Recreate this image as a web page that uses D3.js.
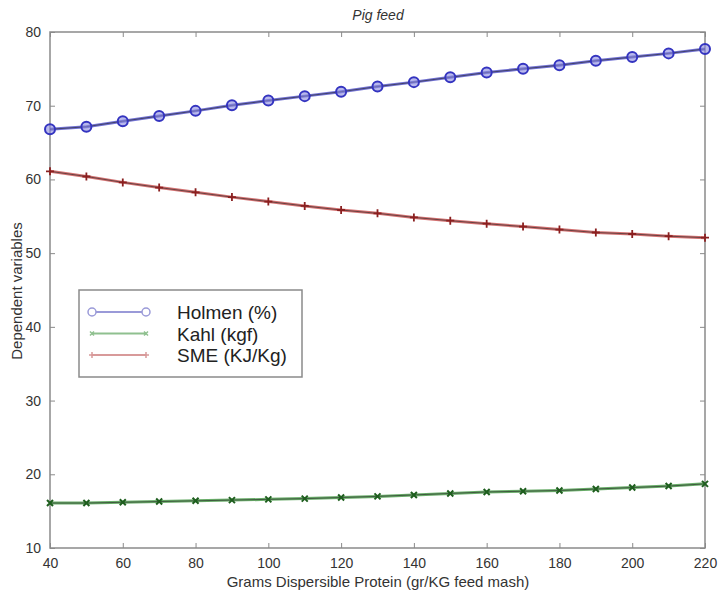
<!DOCTYPE html>
<html><head><meta charset="utf-8">
<script src="https://cdn.jsdelivr.net/npm/d3@7"></script>
<style>body{margin:0;background:#fff;}svg{display:block;}text{font-family:"Liberation Sans",Arial,sans-serif;}</style>
</head><body><svg id="c" width="718" height="592"></svg>
<script>
const xValues = [40,50,60,70,80,90,100,110,120,130,140,150,160,170,180,190,200,210,220];
const holmen = [66.8,67.15,67.9,68.6,69.3,70.05,70.7,71.3,71.9,72.6,73.2,73.85,74.5,75.0,75.5,76.1,76.6,77.1,77.7];
const kahl = [16.1,16.1,16.2,16.3,16.4,16.5,16.6,16.7,16.85,17.0,17.2,17.4,17.6,17.7,17.8,18.0,18.2,18.4,18.7];
const sme = [61.1,60.4,59.6,58.9,58.25,57.6,57.0,56.4,55.85,55.4,54.85,54.4,54.0,53.6,53.2,52.8,52.6,52.3,52.1];
const xTicks = [40,60,80,100,120,140,160,180,200,220];
const yTicks = [10,20,30,40,50,60,70,80];
const seriesNames = ["Holmen (%)","Kahl (kgf)","SME (KJ/Kg)"];
const seriesColors = ["#3434c0","#2a8a2a","#c03434"];
const title = "Pig feed";
const xLabel = "Grams Dispersible Protein (gr/KG feed mash)";
const yLabel = "Dependent variables";

const svg = d3.select("#c");
const L=50,T=32,R=705,B=548;
const x = d3.scaleLinear().domain([40,220]).range([L,R]);
const y = d3.scaleLinear().domain([10,80]).range([B,T]);
const axisCol="#8a8a8a", textCol="#333";

svg.append("rect").attr("x",L).attr("y",T).attr("width",R-L).attr("height",B-T)
  .attr("fill","none").attr("stroke",axisCol).attr("stroke-width",1.5);

const gx = svg.append("g").attr("transform",`translate(0,${B})`)
  .call(d3.axisBottom(x).tickValues(xTicks).tickSizeInner(-5).tickSizeOuter(0).tickPadding(10));
const gxt = svg.append("g").attr("transform",`translate(0,${T})`)
  .call(d3.axisTop(x).tickValues(xTicks).tickSizeInner(-5).tickSizeOuter(0).tickFormat(""));
const gy = svg.append("g").attr("transform",`translate(${L},0)`)
  .call(d3.axisLeft(y).tickValues(yTicks).tickSizeInner(-5).tickSizeOuter(0).tickPadding(9));
const gyr = svg.append("g").attr("transform",`translate(${R},0)`)
  .call(d3.axisRight(y).tickValues(yTicks).tickSizeInner(-5).tickSizeOuter(0).tickFormat(""));
[gx,gxt,gy,gyr].forEach(g=>{
  g.select(".domain").remove();
  g.selectAll(".tick line").attr("stroke",axisCol);
  g.selectAll("text").attr("fill",textCol).style("font-size","14px");
});

svg.append("text").attr("x",378).attr("y",20).attr("text-anchor","middle")
  .style("font-size","14px").style("font-style","italic").attr("fill",textCol).text(title);
svg.append("text").attr("x",378).attr("y",587).attr("text-anchor","middle")
  .style("font-size","15px").attr("fill",textCol).text(xLabel);
svg.append("text").attr("transform","translate(22,291) rotate(-90)").attr("text-anchor","middle")
  .style("font-size","15px").attr("fill",textCol).text(yLabel);

const data=[holmen,kahl,sme];
const line = d3.line().x((d,i)=>x(xValues[i])).y(d=>y(d));
function marker(g,k,cx,cy,col){
  if(k===0){
    g.append("circle").attr("cx",cx).attr("cy",cy).attr("r",5).attr("fill","#8a8ae0").attr("fill-opacity",0.6)
      .attr("stroke",col).attr("stroke-width",2);
  } else if(k===1){
    const s=3;
    g.append("path").attr("d",`M${cx-s},${cy-s}L${cx+s},${cy+s}M${cx-s},${cy+s}L${cx+s},${cy-s}`)
      .attr("stroke","#1e5e1e").attr("stroke-width",2);
  } else {
    const s=4;
    g.append("path").attr("d",`M${cx-s},${cy}L${cx+s},${cy}M${cx},${cy-s}L${cx},${cy+s}`)
      .attr("stroke","#8a2020").attr("stroke-width",1.8);
  }
}
data.forEach((arr,k)=>{
  const g=svg.append("g");
  g.append("path").datum(arr).attr("d",line).attr("fill","none").attr("stroke",seriesColors[k]).attr("stroke-width",3).attr("stroke-opacity",0.7);
  g.append("path").datum(arr).attr("d",line).attr("fill","none").attr("stroke","#222").attr("stroke-width",1).attr("stroke-opacity",0.6);
  arr.forEach((v,i)=>marker(g,k,x(xValues[i]),y(v),seriesColors[k]));
});

const lg = svg.append("g");
lg.append("rect").attr("x",79).attr("y",290).attr("width",223).attr("height",87)
  .attr("fill","#fff").attr("stroke",axisCol).attr("stroke-width",1.5);
const lightCols=["#9a9ad8","#8fc08f","#d89a9a"];
seriesNames.forEach((n,k)=>{
  const yy=312+k*21.5;
  lg.append("line").attr("x1",92).attr("x2",146).attr("y1",yy).attr("y2",yy).attr("stroke",lightCols[k]).attr("stroke-width",2);
  if(k===0){
    [92,146].forEach(cx=>lg.append("circle").attr("cx",cx).attr("cy",yy).attr("r",4).attr("fill","#fff").attr("stroke",lightCols[0]).attr("stroke-width",1.5));
  } else if(k===1){
    [92,146].forEach(cx=>lg.append("path").attr("d",`M${cx-2},${yy-2}L${cx+2},${yy+2}M${cx-2},${yy+2}L${cx+2},${yy-2}`).attr("stroke",lightCols[1]).attr("stroke-width",1.5));
  } else {
    [92,146].forEach(cx=>lg.append("path").attr("d",`M${cx-3},${yy}L${cx+3},${yy}M${cx},${yy-3}L${cx},${yy+3}`).attr("stroke",lightCols[2]).attr("stroke-width",1.5));
  }
  lg.append("text").attr("x",177).attr("y",yy+7).style("font-size","19px").attr("fill","#222").text(n);
});
</script></body></html>
